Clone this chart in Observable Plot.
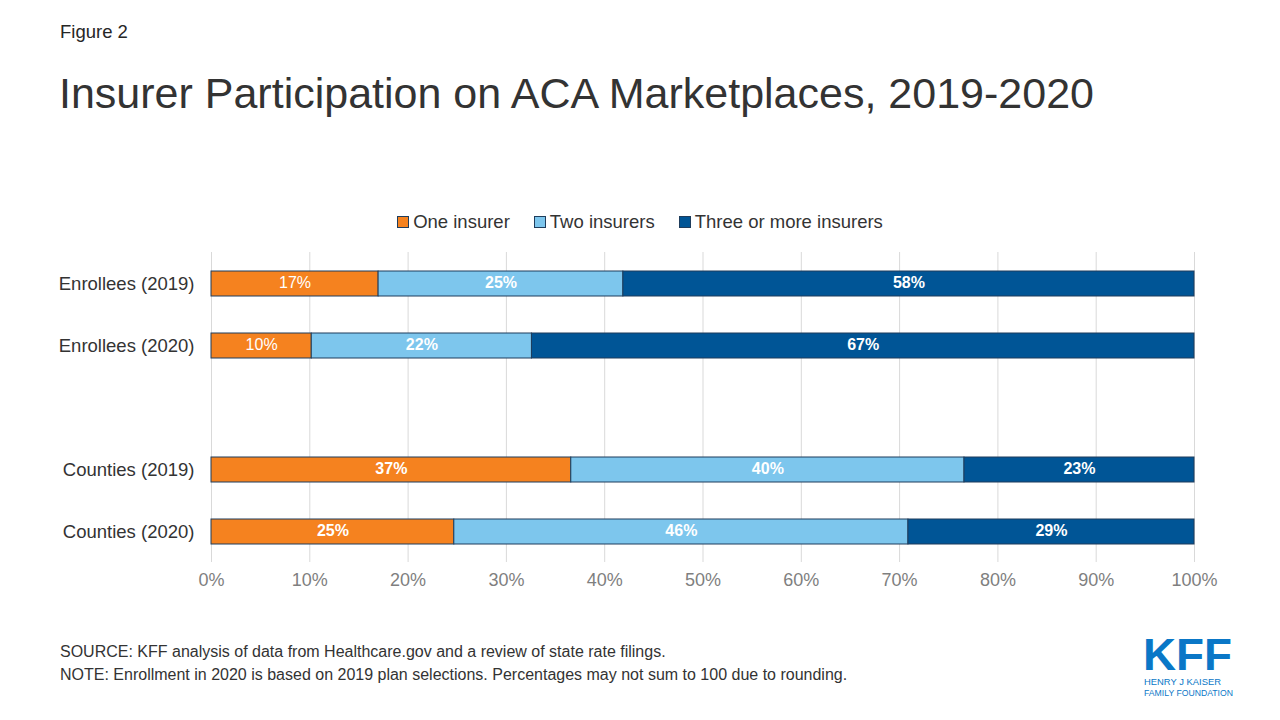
<!DOCTYPE html>
<html>
<head>
<meta charset="utf-8">
<script src="https://cdn.jsdelivr.net/npm/d3@7"></script>
<script src="https://cdn.jsdelivr.net/npm/@observablehq/plot@0.6"></script>
<style>
  html, body { margin: 0; padding: 0; background: #fff; }
  body { width: 1280px; height: 720px; position: relative; overflow: hidden; font-family: "Liberation Sans", Arial, sans-serif; color: #333; }
  .abs { position: absolute; white-space: nowrap; }
  #fig { left: 60px; top: 21px; font-size: 18.5px; color: #262626; }
  #title { left: 59px; top: 69px; font-size: 43px; color: #333; }
  #legend { left: 0; width: 1280px; top: 211px; text-align: center; font-size: 18.5px; color: #333; }
  #legend span.item { display: inline-block; margin: 0 12px; }
  #legend span.sw { display: inline-block; width: 10px; height: 10px; border: 1px solid #1f3d5c; margin-right: 4px; vertical-align: 0px; }
  #chart { left: 0; top: 200px; }
  #note { left: 60px; top: 640px; font-size: 16px; line-height: 23px; color: #333; }
  #logo { left: 1140px; top: 630px; }
</style>
</head>
<body>
<div class="abs" id="fig">Figure 2</div>
<div class="abs" id="title">Insurer Participation on ACA Marketplaces, 2019-2020</div>
<div class="abs" id="legend"></div>
<div class="abs" id="chart"></div>
<div class="abs" id="note">SOURCE: KFF analysis of data from Healthcare.gov and a review of state rate filings.<br>NOTE: Enrollment in 2020 is based on 2019 plan selections. Percentages may not sum to 100 due to rounding.</div>
<svg class="abs" id="logo" width="110" height="72" viewBox="0 0 110 72">
  <text x="3" y="39.5" font-family="Liberation Sans Narrow, Liberation Sans, Arial" font-weight="bold" font-size="45" fill="#0a77c7" textLength="89" lengthAdjust="spacingAndGlyphs">KFF</text>
  <text x="4" y="55" font-family="Liberation Sans, Arial" font-size="9.5" fill="#0a77c7" textLength="77" lengthAdjust="spacingAndGlyphs">HENRY J KAISER</text>
  <text x="4" y="65.5" font-family="Liberation Sans, Arial" font-size="9.5" fill="#0a77c7" textLength="89" lengthAdjust="spacingAndGlyphs">FAMILY FOUNDATION</text>
</svg>
<script>
// ---- data ----
const categories = ["Enrollees (2019)", "Enrollees (2020)", "", "Counties (2019)", "Counties (2020)"];
const series = ["One insurer", "Two insurers", "Three or more insurers"];
const oneInsurer  = [17.0, 10.2, null, 36.6, 24.7];
const twoInsurers = [24.9, 22.4, null, 40.0, 46.2];
const threePlus   = [58.1, 67.4, null, 23.4, 29.1];
const xTicks = [0, 10, 20, 30, 40, 50, 60, 70, 80, 90, 100];
const colors = ["#f5821f", "#7dc6ed", "#005596"];

const seriesValues = [oneInsurer, twoInsurers, threePlus];
const rows = [];
categories.forEach((c, i) => {
  series.forEach((s, j) => {
    const v = seriesValues[j][i];
    if (v != null) rows.push({category: c, series: s, value: v, bold: !(j === 0 && c.startsWith("Enrollees"))});
  });
});

// legend
const legend = document.getElementById("legend");
series.forEach((s, j) => {
  const item = document.createElement("span");
  item.className = "item";
  item.innerHTML = `<span class="sw" style="background:${colors[j]}"></span>${s}`;
  legend.appendChild(item);
});

const stackOpts = {x: "value", y: "category", z: "series", order: series};
const label = d => Math.round(d.value) + "%";
const chart = Plot.plot({
  width: 1280,
  height: 402,
  marginTop: 52,
  marginBottom: 40,
  marginLeft: 211,
  marginRight: 86,
  style: {fontFamily: "Liberation Sans, Arial, sans-serif", background: "transparent"},
  x: {domain: [0, 100], axis: null},
  y: {domain: categories, paddingInner: 0.6, paddingOuter: 0.3, axis: null},
  color: {domain: series, range: colors},
  marks: [
    Plot.gridX(xTicks, {stroke: "#d9d9d9", strokeOpacity: 1, strokeWidth: 1}),
    Plot.barX(rows, Plot.stackX({...stackOpts, fill: "series", stroke: "#1f3d5c", strokeWidth: 1})),
    Plot.text(rows, Plot.stackX({...stackOpts, text: d => d.bold ? null : label(d), fill: "white", fontSize: 16, dy: -1})),
    Plot.text(rows, Plot.stackX({...stackOpts, text: d => d.bold ? label(d) : null, fill: "white", fontSize: 16, fontWeight: "bold", dy: -1})),
    Plot.axisY({tickSize: 0, tickPadding: 17, fontSize: 18.5, color: "#333", label: null}),
    Plot.axisX(xTicks, {tickSize: 0, tickPadding: 11, fontSize: 18, color: "#7f7f7f", tickFormat: d => d + "%", label: null})
  ]
});
document.getElementById("chart").appendChild(chart);
</script>
</body>
</html>
